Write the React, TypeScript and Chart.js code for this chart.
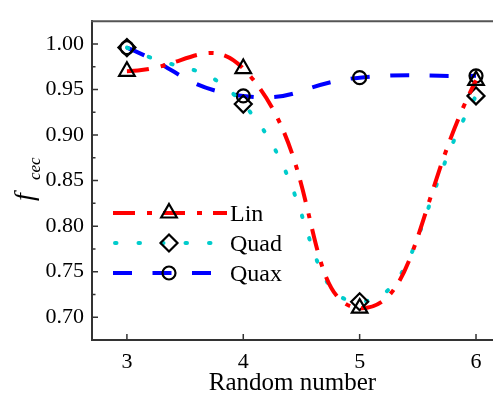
import React, { useEffect, useRef } from "react";
import { Chart, registerables } from "chart.js";

Chart.register(...registerables);

// ---- data ----
const randomNumbers = [3, 4, 5, 6];
const linValues = [0.97, 0.973, 0.71, 0.96];
const quadValues = [0.996, 0.934, 0.717, 0.943];
const quaxValues = [0.996, 0.943, 0.963, 0.965];
const xTickValues = [3, 4, 5, 6];
const yTickValues = [0.7, 0.75, 0.8, 0.85, 0.9, 0.95, 1.0];
const yMinorTickValues = [0.725, 0.775, 0.825, 0.875, 0.925, 0.975];
const seriesNames = ["Lin", "Quad", "Quax"];

const SERIF = "'Liberation Serif', 'Times New Roman', serif";
const AXIS_COLOR = "#333333";

Chart.defaults.font.family = SERIF;

const seriesStyles = [
  { color: "#FF0000", dash: [22, 12, 5, 11], cap: "butt", marker: "triangle", radius: 9 },
  { color: "#00CCCC", dash: [1.5, 22], cap: "round", marker: "rectRot", radius: 8.5 },
  { color: "#0000FF", dash: [19, 20.5], cap: "butt", marker: "circle", radius: 6.5 },
];

function drawMarker(ctx: CanvasRenderingContext2D, kind: string, x: number, y: number, r: number) {
  ctx.beginPath();
  if (kind === "triangle") {
    let rad = 0;
    ctx.moveTo(x + Math.sin(rad) * r, y - Math.cos(rad) * r);
    rad += (2 * Math.PI) / 3;
    ctx.lineTo(x + Math.sin(rad) * r, y - Math.cos(rad) * r);
    rad += (2 * Math.PI) / 3;
    ctx.lineTo(x + Math.sin(rad) * r, y - Math.cos(rad) * r);
    ctx.closePath();
  } else if (kind === "rectRot") {
    ctx.moveTo(x, y - r);
    ctx.lineTo(x + r, y);
    ctx.lineTo(x, y + r);
    ctx.lineTo(x - r, y);
    ctx.closePath();
  } else {
    ctx.arc(x, y, r, 0, Math.PI * 2);
  }
  ctx.stroke();
}

const framePlugin = {
  id: "frameDecor",
  afterDraw(chart: any) {
    const ctx: CanvasRenderingContext2D = chart.ctx;
    const { left, right, top, bottom } = chart.chartArea;
    const xs = chart.scales.x;
    const ys = chart.scales.y;
    ctx.save();
    // top border
    ctx.strokeStyle = "#555555";
    ctx.lineWidth = 2;
    ctx.beginPath();
    ctx.moveTo(left - 1, top);
    ctx.lineTo(right, top);
    ctx.stroke();
    // inward ticks
    ctx.strokeStyle = AXIS_COLOR;
    ctx.lineWidth = 1.5;
    ctx.beginPath();
    yTickValues.forEach((v) => {
      const p = ys.getPixelForValue(v);
      ctx.moveTo(left, p);
      ctx.lineTo(left + 6, p);
    });
    yMinorTickValues.forEach((v) => {
      const p = ys.getPixelForValue(v);
      ctx.moveTo(left, p);
      ctx.lineTo(left + 3.5, p);
    });
    xTickValues.forEach((v) => {
      const p = xs.getPixelForValue(v);
      ctx.moveTo(p, bottom);
      ctx.lineTo(p, bottom - 6);
    });
    ctx.stroke();

    // y axis title f_cec
    ctx.fillStyle = "#000";
    ctx.translate(33, 201);
    ctx.rotate(-Math.PI / 2);
    ctx.textAlign = "left";
    ctx.textBaseline = "alphabetic";
    ctx.font = `italic 28px ${SERIF}`;
    ctx.fillText("f", 0, 0);
    ctx.font = `italic 17px ${SERIF}`;
    ctx.fillText("cec", 21, 7);
    ctx.restore();

    // legend
    ctx.save();
    const lx0 = 113;
    const lx1 = 227;
    const mx = 169;
    const rows = [213, 243, 273];
    seriesStyles.forEach((s, i) => {
      const y = rows[i];
      ctx.strokeStyle = s.color;
      ctx.lineWidth = 4;
      ctx.lineCap = s.cap as CanvasLineCap;
      ctx.setLineDash(s.dash);
      ctx.beginPath();
      ctx.moveTo(s.cap === "round" ? lx0 + 2 : lx0, y);
      ctx.lineTo(lx1, y);
      ctx.stroke();
      ctx.setLineDash([]);
      ctx.lineCap = "butt";
      ctx.strokeStyle = "#000";
      ctx.lineWidth = 2.2;
      drawMarker(ctx, s.marker, mx, y, s.radius);
      ctx.fillStyle = "#000";
      ctx.font = `24px ${SERIF}`;
      ctx.textAlign = "left";
      ctx.textBaseline = "alphabetic";
      ctx.fillText(seriesNames[i], 230, y + 8);
    });
    ctx.restore();
  },
};

export default function App() {
  const canvasRef = useRef<HTMLCanvasElement | null>(null);

  useEffect(() => {
    document.body.style.margin = "0";
    const canvas = canvasRef.current;
    if (!canvas) return;
    const seriesValues = [linValues, quadValues, quaxValues];
    const datasets = seriesValues.map((vals, i) => {
      const s = seriesStyles[i];
      return {
        label: seriesNames[i],
        data: randomNumbers.map((x, j) => ({ x, y: vals[j] })),
        borderColor: s.color,
        borderWidth: 4,
        borderDash: s.dash,
        borderCapStyle: s.cap,
        tension: 0.5,
        fill: false,
        clip: false,
        pointStyle: s.marker,
        pointRadius: s.radius,
        pointBorderColor: "#000",
        pointBackgroundColor: "rgba(0,0,0,0)",
        pointBorderWidth: 2.2,
        order: i,
      };
    });

    const tickFont = { family: SERIF, size: 22, style: "normal" as const, weight: "normal" as const };

    const chart = new Chart(canvas, {
      type: "line",
      data: { datasets: datasets as any },
      options: {
        animation: false,
        responsive: false,
        devicePixelRatio: 1,
        layout: { autoPadding: false, padding: { top: 10, right: 0, left: 0, bottom: 0 } },
        plugins: { legend: { display: false }, tooltip: { enabled: false } },
        scales: {
          x: {
            type: "linear",
            min: 2.7,
            max: 6.146,
            grid: { display: false, drawTicks: false },
            border: { display: true, color: AXIS_COLOR, width: 2 },
            afterBuildTicks: (scale: any) => {
              scale.ticks = xTickValues.map((v) => ({ value: v }));
            },
            afterFit: (scale: any) => {
              scale.height = 61;
            },
            ticks: {
              padding: 9,
              color: "#000",
              font: tickFont,
              maxRotation: 0,
              callback: (v: any) => String(v),
            },
            title: {
              display: true,
              text: "Random number",
              color: "#000",
              font: { family: SERIF, size: 25 },
              padding: { top: 0, bottom: 3 },
            },
          },
          y: {
            type: "linear",
            min: 0.675,
            max: 1.025,
            grid: { display: false, drawTicks: false },
            border: { display: true, color: AXIS_COLOR, width: 2 },
            afterBuildTicks: (scale: any) => {
              scale.ticks = yTickValues.map((v) => ({ value: v }));
            },
            afterFit: (scale: any) => {
              scale.width = 92;
            },
            ticks: {
              padding: 8,
              color: "#000",
              font: tickFont,
              callback: (v: any) => Number(v).toFixed(2),
            },
          },
        },
      },
      plugins: [framePlugin],
    });
    return () => chart.destroy();
  }, []);

  return (
    <div style={{ width: 493, height: 401, background: "#fff" }}>
      <canvas ref={canvasRef} width={493} height={401} />
    </div>
  );
}
